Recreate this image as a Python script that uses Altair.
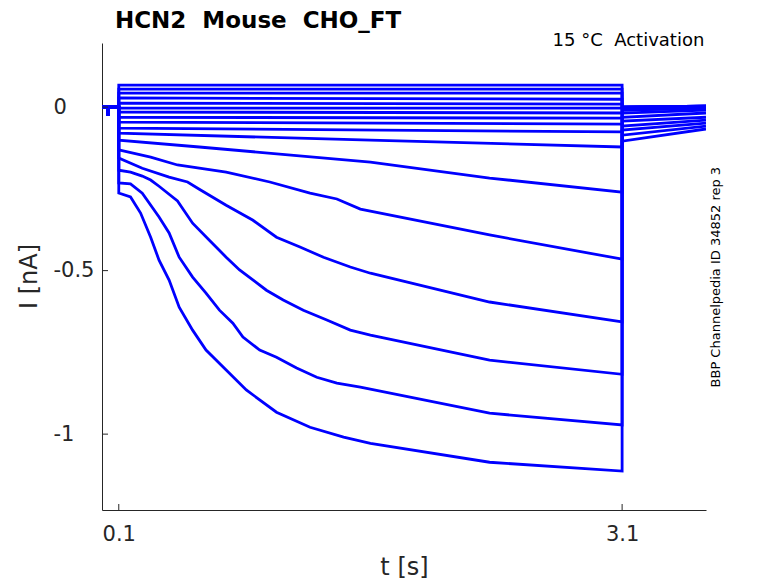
import altair as alt
import pandas as pd

BLUE = "#0000ff"
FONT = "DejaVu Sans"

# holding segment (s, nA), shared by all sweeps
pre_t = [0.0, 0.033, 0.035, 0.038, 0.1]
pre_I = [0.0, 0.0, -0.027, 0.0, 0.0]

# nearly flat sweeps: current at start / end of test pulse, tail start / end
flat_start = [0.067, 0.055, 0.043, 0.028, 0.012, -0.003, -0.015, -0.031, -0.046, -0.064]
flat_end = [0.067, 0.055, 0.043, 0.024, 0.009, -0.003, -0.018, -0.034, -0.052, -0.076]
flat_tail_start = [0.0, 0.0, 0.0, 0.0, 0.0, -0.003, -0.003, -0.003, -0.009, -0.009]
flat_tail_end = [0.003, 0.003, 0.003, 0.003, 0.003, 0.0, 0.0, 0.0, -0.003, -0.003]

# activating sweeps: test-pulse samples
a_t = [0.10, 1.60, 3.10]
a_I = [-0.080, -0.101, -0.122]
b_t = [0.10, 0.58, 1.60, 2.31, 3.10]
b_I = [-0.101, -0.122, -0.168, -0.217, -0.260]
c_t = [0.10, 0.29, 0.45, 0.74, 1.00, 1.24, 1.40, 1.54, 2.31, 3.10]
c_I = [-0.131, -0.153, -0.177, -0.199, -0.229, -0.263, -0.281, -0.312, -0.391, -0.465]
d_t = [0.10, 0.24, 0.40, 0.51, 0.58, 0.74, 0.90, 1.04, 1.18, 1.32, 1.48, 1.60, 2.31, 3.10]
d_I = [-0.156, -0.187, -0.214, -0.229, -0.251, -0.300, -0.346, -0.398, -0.428, -0.459, -0.489, -0.508, -0.596, -0.657]
e_t = [0.10, 0.17, 0.24, 0.29, 0.34, 0.45, 0.54, 0.64, 0.74, 0.82, 0.98, 1.08, 1.20, 1.34, 1.48, 1.60, 2.31, 3.10]
e_I = [-0.193, -0.199, -0.211, -0.223, -0.242, -0.287, -0.355, -0.407, -0.459, -0.498, -0.560, -0.590, -0.621, -0.651, -0.682, -0.697, -0.774, -0.817]
f_t = [0.10, 0.17, 0.24, 0.34, 0.40, 0.46, 0.54, 0.62, 0.70, 0.78, 0.84, 0.94, 1.04, 1.16, 1.28, 1.40, 1.54, 2.31, 3.10]
f_I = [-0.232, -0.235, -0.263, -0.336, -0.385, -0.459, -0.520, -0.569, -0.621, -0.661, -0.703, -0.743, -0.765, -0.798, -0.826, -0.844, -0.856, -0.936, -0.972]
g_t = [0.10, 0.17, 0.23, 0.29, 0.34, 0.40, 0.46, 0.54, 0.62, 0.74, 0.86, 1.04, 1.24, 1.44, 1.60, 2.31, 3.10]
g_I = [-0.263, -0.275, -0.324, -0.398, -0.468, -0.529, -0.612, -0.682, -0.743, -0.804, -0.865, -0.933, -0.979, -1.009, -1.028, -1.086, -1.113]
act_tail_start = [-0.018, -0.031, -0.043, -0.058, -0.070, -0.086, -0.104]
act_tail_end = [-0.009, -0.018, -0.031, -0.040, -0.049, -0.058, -0.067]

tail_t = [3.1, 3.6]

x_ticks = [0.1, 3.1]
y_ticks = [-1.0, -0.5, 0.0]

# ---- build long table
sweeps = []
for k in range(len(flat_start)):
    sweeps.append(([0.1, 3.1], [flat_start[k], flat_end[k]], flat_tail_start[k], flat_tail_end[k]))
act = [(a_t, a_I), (b_t, b_I), (c_t, c_I), (d_t, d_I), (e_t, e_I), (f_t, f_I), (g_t, g_I)]
for k, (tt, ii) in enumerate(act):
    sweeps.append((tt, ii, act_tail_start[k], act_tail_end[k]))

rows = []
for s, (tt, ii, ts, te) in enumerate(sweeps):
    ts_list = list(pre_t) + list(tt) + list(tail_t)
    is_list = list(pre_I) + list(ii) + [ts, te]
    for n, (t, v) in enumerate(zip(ts_list, is_list)):
        rows.append({"sweep": s, "i": n, "t": t, "I": v})
df = pd.DataFrame(rows)

W, H = 604, 467
xs = alt.Scale(domain=[0, 3.6], nice=False, zero=False)
ys = alt.Scale(domain=[-1.232, 0.196], nice=False, zero=False)

x_axis = alt.Axis(
    values=x_ticks, labelExpr="toString(datum.value)", title="t [s]",
    ticks=False, tickSize=0, grid=False, labelPadding=13,
    domainColor="#262626", labelColor="#262626", titleColor="#262626",
    labelFont=FONT, titleFont=FONT, labelFontSize=21, titleFontSize=24,
    titleFontWeight="normal", titleX=302, titleY=57, titleBaseline="middle")
y_axis = alt.Axis(
    values=y_ticks, labelExpr="toString(datum.value)", title="I [nA]",
    ticks=False, tickSize=0, grid=False, labelPadding=49, labelAlign="left",
    domainColor="#262626", labelColor="#262626", titleColor="#262626",
    labelFont=FONT, titleFont=FONT, labelFontSize=21, titleFontSize=24,
    titleFontWeight="normal", titleAngle=270, titleX=-73, titleY=233,
    titleBaseline="middle")

lines = alt.Chart(df).mark_line(color=BLUE, strokeWidth=2.8, clip=True).encode(
    x=alt.X("t:Q", scale=xs, axis=x_axis, title="t [s]"),
    y=alt.Y("I:Q", scale=ys, axis=y_axis, title="I [nA]"),
    detail="sweep:N",
    order="i:Q",
)

xt = pd.DataFrame({"t": x_ticks})
yt = pd.DataFrame({"I": y_ticks})
xtick = alt.Chart(xt).mark_rule(color="#262626", strokeWidth=1).encode(
    x=alt.X("t:Q", scale=xs, axis=x_axis, title="t [s]"), y=alt.value(H), y2=alt.value(H - 6))
ytick = alt.Chart(yt).mark_rule(color="#262626", strokeWidth=1).encode(
    y=alt.Y("I:Q", scale=ys, axis=y_axis, title="I [nA]"), x=alt.value(0), x2=alt.value(6))

texts = pd.DataFrame({
    "txt": ["HCN2\u00a0\u00a0Mouse\u00a0\u00a0CHO_FT"],
})
title = alt.Chart(texts).mark_text(
    align="left", baseline="alphabetic", font=FONT, fontSize=23, fontWeight="bold", color="black"
).encode(x=alt.XDatum(0.077, scale=xs, axis=x_axis, title="t [s]"),
         y=alt.YDatum(0.242, scale=ys, axis=y_axis, title="I [nA]"), text="txt:N")

note = alt.Chart(pd.DataFrame({"txt": ["15\u00a0°C\u00a0\u00a0Activation"]})).mark_text(
    align="right", baseline="middle", font=FONT, fontSize=18, color="black"
).encode(x=alt.XDatum(3.59, scale=xs, axis=x_axis, title="t [s]"),
         y=alt.YDatum(0.202, scale=ys, axis=y_axis, title="I [nA]"), text="txt:N")

side = alt.Chart(pd.DataFrame({"txt": ["BBP Channelpedia ID 34852 rep 3"]})).mark_text(
    align="center", baseline="middle", font=FONT, fontSize=13, color="black", angle=270
).encode(x=alt.XDatum(3.66, scale=xs, axis=x_axis, title="t [s]"),
         y=alt.YDatum(-0.52, scale=ys, axis=y_axis, title="I [nA]"), text="txt:N")

chart = alt.layer(lines, xtick, ytick, title, note, side).properties(
    width=W, height=H,
    autosize=alt.AutoSizeParams(type="none"),
    padding={"left": 94, "top": 35, "right": 50, "bottom": 70},
).configure(background="white").configure_view(stroke=None)

chart.save("out.html", embed_options={"renderer": "svg", "actions": False})
